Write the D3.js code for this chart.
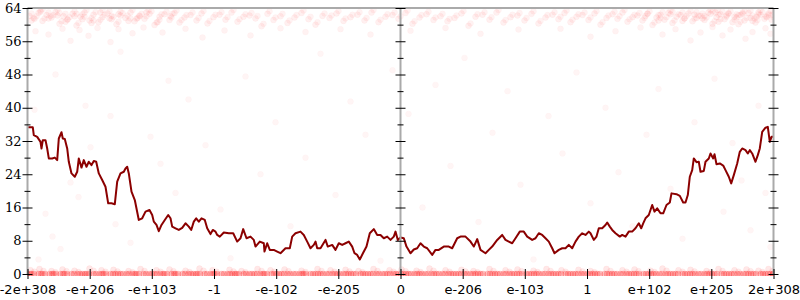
<!DOCTYPE html>
<html><head><meta charset="utf-8">
<script src="https://cdn.jsdelivr.net/npm/d3@7/dist/d3.min.js"></script>
<style>
body{margin:0;background:#fff}
svg{display:block}
</style></head>
<body><svg id="c" width="800" height="300"></svg>
<script>
// x values are positions along the ordered-float axis (tick spacing ~62.17 units)
const xTickValues = [-373, -310.8, -248.7, -186.5, -124.3, -62.2, 0, 62.2, 124.3, 186.5, 248.7, 310.8, 373];
const xTickLabels = ["-2e+308", "-e+206", "-e+103", "-1", "-e-102", "-e-205", "0", "e-206", "e-103", "1", "e+102", "e+205", "2e+308"];
const yMajorTicks = [0, 8, 16, 24, 32, 40, 48, 56, 64];
const yMinorTicks = [4, 12, 20, 28, 36, 44, 52, 60];

// running line
const lineX = [-372.3,-367.7,-366.7,-363.3,-360,-359,-357.7,-355,-353.3,-351.7,-348.3,-345.7,-343.3,-341.7,-339,-337.7,-335.7,-333.3,-331.7,-329,-325.7,-323.3,-321.7,-319,-316.7,-314,-311.7,-309,-306.7,-304.3,-301.7,-298.3,-295,-292.3,-289,-285.7,-283.3,-280,-276.7,-275,-273.3,-271.7,-269,-265.7,-261.7,-258.3,-255,-251,-248.3,-246.7,-244,-241.7,-239,-235.7,-232.3,-230,-228.3,-225,-221.7,-218.3,-215,-211.7,-209.3,-206.7,-204.3,-201.7,-199,-195.7,-193.3,-190,-187.7,-185,-183.3,-180.7,-176.7,-171.7,-167.3,-163.3,-160,-157.3,-154,-150,-146.7,-145,-140.7,-136.7,-136,-133.3,-130.7,-126.7,-123.3,-120,-115,-110.7,-108.3,-105,-100,-96.7,-93.3,-90,-86.7,-85,-83.3,-80,-75,-72.7,-68.3,-65,-61.7,-58.3,-55,-51.7,-48.3,-46,-43.3,-40.7,-37.3,-34,-30.7,-26.7,-23.3,-20,-16.7,-13.3,-10,-6.7,-5,-2.7,0,3.3,6,10,13.3,16.7,20,23.3,26.7,31.7,35,38.3,43.3,48.3,51.7,56.7,60,65,70,73.3,76.7,80,85,88.3,91.7,96.7,101.7,105,108.3,111.7,115,119.3,123.3,126.7,131.7,135,138.3,141.7,145,148.3,151.7,154,158.3,161.7,165,168.3,171.7,175,178.3,181.7,185,188.3,190,193.3,196,198.3,201.7,205,206.7,209.3,211.7,215,219.3,221.7,225,228.3,231.7,235,238.3,240.7,242.7,245,248.3,251.7,254,256.7,260,262.7,266,269.3,271,276,279.3,282.7,285,287.3,289.3,291.7,293.3,296,298.3,300,303.3,305,308.3,310,312.7,314,316,319.3,322.7,325,328.3,330.7,333.3,336.7,339.3,341.7,345,347.3,349.3,351.7,355,357.3,359.3,361.7,365,367.3,369.3,371,373];
const lineY = [35.3,35.3,33.4,33.0,31.8,30.2,32.2,32.2,30.2,27.8,27.8,28.0,27.4,32.6,34.1,32.6,32.5,30.2,27.0,24.2,23.4,24.6,27.8,25.6,27.4,25.8,27.0,26.2,27.2,27.0,24.2,22.6,21.0,17.0,17.0,16.8,22.2,24.2,24.6,25.4,25.8,24.2,19.8,17.8,13.0,13.4,15.0,15.4,14.2,12.6,11.8,10.3,11.8,13.0,14.2,13.4,11.4,11.0,10.6,11.1,12.2,11.4,10.6,12.6,13.4,12.6,13.4,13.0,11.0,9.6,10.6,10.2,9.4,9.0,10.0,9.8,9.8,7.8,8.6,10.8,8.6,9.0,8.2,6.6,7.8,7.4,5.4,7.4,5.8,5.8,5.4,5.0,6.2,6.2,9.0,9.8,10.2,9.4,7.8,6.2,7.0,7.8,6.2,6.2,8.2,6.6,7.0,5.8,7.4,7.0,7.4,7.8,6.6,5.0,4.6,3.5,5.1,6.6,9.8,10.8,9.4,9.4,8.6,9.0,8.2,9.0,10.2,8.2,8.8,8.6,6.6,5.0,5.9,6.2,7.4,6.6,6.2,4.6,5.8,5.8,6.6,6.6,6.2,8.6,9.0,9.0,7.8,6.6,8.4,5.8,5.0,5.8,6.6,8.2,9.4,8.2,7.8,7.4,8.6,10.2,10.2,9.0,8.2,8.6,9.8,9.4,8.6,7.8,6.2,5.0,5.8,6.2,6.2,7.0,6.2,7.8,9.0,9.8,9.4,10.2,9.8,8.2,9.0,11.0,11.0,11.8,12.4,11.4,10.6,9.8,9.0,9.4,9.0,10.2,10.2,11.0,12.2,11.0,12.2,13.4,14.2,16.6,15.0,15.8,14.6,14.6,16.6,17.2,19.4,19.2,18.8,17.2,17.2,19.0,23.4,25.0,27.8,26.9,27.0,24.6,24.8,27.0,27.8,29.0,27.8,28.8,26.4,26.6,26.1,25.0,23.4,21.8,23.8,26.6,29.4,30.2,29.8,29.0,29.8,29.0,27.0,28.6,30.2,34.2,35.2,35.4,31.8,33.0,33.0];

// scatter: dense band near the top
const topBand = [[-371,62.1],[-366,61.4],[-362,62.8],[-358,60.9],[-354,62.3],[-349,61.7],[-345,63.0],[-341,60.2],[-337,62.0],[-333,61.2],[-328,62.6],[-324,59.8],[-320,61.9],[-316,62.9],[-311,61.0],[-307,62.4],[-302,60.6],[-298,61.8],[-293,62.7],[-289,61.3],[-284,60.1],[-280,62.2],[-275,61.6],[-270,62.9],[-266,60.8],[-261,62.0],[-256,61.4],[-251,62.6],[-246,59.9],[-241,61.9],[-236,62.5],[-231,61.1],[-226,62.8],[-221,60.5],[-216,61.7],[-210,62.3],[-204,61.0],[-199,62.7],[-193,60.3],[-187,61.8],[-181,62.4],[-175,61.2],[-169,62.9],[-163,60.7],[-157,61.9],[-151,62.2],[-145,61.5],[-139,59.6],[-133,62.6],[-127,61.1],[-120,62.0],[-113,60.4],[-106,61.7],[-99,62.8],[-92,61.3],[-85,60.0],[-78,62.1],[-71,61.6],[-64,62.7],[-57,60.9],[-50,61.8],[-43,62.4],[-36,61.0],[-29,62.9],[-22,60.6],[-15,61.9],[-8,62.3],[-2,61.4],[5,62.8],[12,60.2],[19,61.7],[26,62.5],[33,61.1],[40,62.0],[47,60.8],[54,61.6],[61,62.7],[68,59.7],[75,61.9],[82,62.4],[89,61.2],[96,62.9],[103,60.5],[110,61.8],[117,62.2],[124,61.0],[131,62.6],[138,60.3],[145,61.7],[152,62.4],[158,61.3],[164,62.8],[170,60.6],[176,61.9],[182,62.3],[188,61.1],[194,62.7],[200,60.0],[206,61.6],[212,62.5],[217,61.4],[222,62.9],[227,60.7],[232,61.8],[237,62.2],[242,61.0],[247,62.6],[252,59.9],[256,61.7],[260,62.4],[264,61.2],[268,62.8],[272,60.4],[276,61.9],[280,62.3],[284,61.5],[288,62.7],[292,60.8],[296,61.6],[300,62.1],[304,61.1],[308,62.9],[312,60.2],[316,61.8],[320,62.5],[324,61.3],[328,62.6],[332,60.6],[336,61.7],[340,62.3],[344,61.0],[348,62.8],[352,60.9],[356,61.9],[360,62.4],[364,61.4],[368,62.7],[371,61.2],
[-369,61.0],[-360,63.1],[-352,61.5],[-343,62.2],[-335,60.7],[-326,62.0],[-318,61.3],[-309,60.4],[-300,62.9],[-291,61.5],[-282,62.5],[-272,60.9],[-263,61.6],[-254,62.9],[-243,60.6],[-230,62.0],[245,62.1],[258,61.0],[270,62.5],[282,60.9],[294,62.4],[302,61.5],[310,62.6],[318,60.7],[326,62.2],[334,61.9],[342,62.6],[350,61.6],[358,62.9],[366,61.8],[372,62.4],[355,60.5],[338,60.1],[315,62.9]];
const topSpread = [[-365,58.4],[-352,57.6],[-338,59.0],[-330,56.1],[-321,58.7],[-312,57.3],[-303,59.2],[-290,55.8],[-282,58.9],[-268,57.9],[-257,59.3],[-238,58.1],[-215,59.0],[-198,56.9],[-176,58.6],[-150,57.4],[-120,59.1],[-95,58.2],[-60,58.9],[-30,57.6],[10,58.5],[45,59.2],[80,57.8],[118,58.8],[160,59.0],[190,57.1],[215,58.4],[240,59.3],[262,57.6],[275,58.9],[290,56.2],[300,58.1],[312,59.4],[322,57.4],[330,58.8],[345,56.6],[352,58.2],[365,59.1],[370,57.8]];
const midSparse = [[-355,14.5],[-348,9.0],[-340,6.0],[-362,3.5],[-330,22.0],[-310,30.5],[-290,38.0],[-322,18.5],[-285,12.0],[-270,7.5],[-250,33.0],[-240,26.5],[-225,19.5],[-212,42.0],[-195,31.0],[-180,15.5],[-170,3.8],[-155,47.5],[-140,24.0],[-125,36.5],[-110,11.5],[-95,28.0],[-80,53.0],[-65,19.0],[-50,41.5],[-35,33.5],[-20,3.2],[-8,49.0],[8,38.5],[22,16.0],[35,45.5],[50,26.0],[64,52.0],[78,12.5],[92,34.0],[107,44.0],[120,21.5],[133,3.5],[148,38.0],[162,29.0],[176,48.5],[190,17.0],[205,40.0],[218,24.5],[232,11.5],[246,33.5],[258,44.5],[270,20.5],[282,8.5],[294,36.5],[305,27.0],[314,47.0],[323,15.0],[332,31.5],[341,22.5],[350,10.5],[358,40.5],[365,19.5],[370,6.5],[-366,39.5],[-345,48.0],[-315,40.5],[-280,53.5],[-232,46.5]];
// scatter: values at zero and just above
const zeroX = [-373,-369,-362,-358,-351,-347,-340,-336,-329,-323,-318,-314,-307,-301,-297,-290,-285,-280,-274,-268,-264,-257,-251,-246,-240,-236,-229,-225,-218,-212,-207,-203,-196,-190,-186,-179,-173,-168,-164,-157,-151,-146,-140,-136,-129,-124,-119,-113,-107,-101,-97,-90,-85,-80,-74,-68,-63,-57,-52,-47,-40,-35,-30,-24,-18,-13,-7,-2,3,8,14,19,25,31,36,42,48,53,58,64,70,75,80,87,92,97,103,109,114,119,126,131,136,142,148,153,158,165,170,175,181,187,192,197,204,209,214,220,226,231,236,243,248,253,259,265,270,275,282,287,292,298,304,309,314,321,326,331,337,343,348,353,360,365,370,373];
const nearZero = [[-370,0.9],[-361,1.2],[-349,0.7],[-338,1.1],[-326,0.8],[-311,1.3],[-299,0.9],[-287,1.0],[-272,0.7],[-260,1.2],[-244,0.9],[-231,1.1],[-215,0.8],[-201,1.3],[-188,0.9],[-171,1.0],[-159,0.7],[-143,1.2],[-130,0.9],[-116,1.1],[-99,0.8],[-83,1.2],[-70,0.9],[-55,1.0],[-42,0.7],[-27,1.2],[-11,0.9],[1,1.1],[16,0.8],[29,1.3],[45,0.9],[61,1.0],[73,0.7],[89,1.2],[105,0.9],[117,1.1],[133,0.8],[146,1.2],[161,0.9],[178,1.0],[190,0.7],[206,1.2],[222,0.9],[234,1.1],[250,0.8],[262,1.3],[278,0.9],[290,1.0],[306,0.7],[318,1.2],[334,0.9],[346,1.1],[358,0.8],[368,1.2]];

const W = 800, H = 300;
const svg = d3.select("#c");
const x = d3.scaleLinear().domain([-373, 373]).range([27.5, 773.5]);
const y = d3.scaleLinear().domain([0, 64]).range([274, 8]);

svg.append("defs").append("clipPath").attr("id", "clip")
  .append("rect").attr("x", 27.5).attr("y", 8).attr("width", 746).attr("height", 268);

const gp = svg.append("g").attr("clip-path", "url(#clip)");
function dots(data, op, r) {
  gp.append("g").selectAll("circle").data(data).join("circle")
    .attr("cx", d => x(d[0])).attr("cy", d => y(d[1])).attr("r", r || 3)
    .attr("fill", "#ff0000").attr("fill-opacity", op)
    .attr("stroke", "#ff0000").attr("stroke-opacity", op * 0.8).attr("stroke-width", 0.6);
}
dots(topBand, 0.06);
dots(topBand.map(d => [d[0] + 2, d[1] + 0.6]), 0.05);
dots(topSpread, 0.05);
dots(midSparse, 0.04);
dots(nearZero, 0.09);
dots(nearZero.map(d => [d[0] + 4, d[1] * 0.6]), 0.08);
dots(zeroX.map(v => [v, 0]), 0.22);
dots(zeroX.map(v => [v + 2.5, 0]), 0.22);

// frame lines
const grey = "#aaaaaa";
svg.append("line").attr("x1", x(-373)).attr("x2", x(373)).attr("y1", y(64)).attr("y2", y(64))
  .attr("stroke", grey).attr("stroke-width", 2);

// line series
const pts = lineX.map((v, i) => [v, lineY[i]]);
svg.append("path").datum(pts)
  .attr("fill", "none").attr("stroke", "#8b0000").attr("stroke-width", 2).attr("stroke-linejoin", "round")
  .attr("d", d3.line().x(d => x(d[0])).y(d => y(d[1])));

// vertical axes
function vAxis(xv, labels) {
  const X = x(xv);
  svg.append("line").attr("x1", X).attr("x2", X).attr("y1", y(64)).attr("y2", y(0))
    .attr("stroke", grey).attr("stroke-width", 2);
  const gMaj = svg.append("g").attr("transform", `translate(${X + 5},0)`)
    .call(d3.axisLeft(y).tickValues(yMajorTicks).tickSize(10).tickPadding(1)
      .tickFormat(labels ? d3.format("d") : () => ""));
  gMaj.select(".domain").remove();
  gMaj.selectAll("line").attr("stroke", "#000");
  gMaj.selectAll("text").attr("font-family", "DejaVu Serif").attr("font-size", 13).attr("fill", "#000");
  const gMin = svg.append("g").attr("transform", `translate(${X + 3},0)`)
    .call(d3.axisLeft(y).tickValues(yMinorTicks).tickSize(6).tickFormat(() => ""));
  gMin.select(".domain").remove();
  gMin.selectAll("line").attr("stroke", "#000");
}
vAxis(-373, true);
vAxis(0, false);
vAxis(373, false);

// bottom axis
const gx = svg.append("g").attr("transform", `translate(0,${y(0) - 5})`)
  .call(d3.axisBottom(x).tickValues(xTickValues).tickSize(10).tickPadding(6)
    .tickFormat((d, i) => xTickLabels[i]));
gx.select(".domain").remove();
gx.selectAll("line").attr("stroke", "#000");
gx.selectAll("text").attr("font-family", "DejaVu Sans").attr("font-size", 13).attr("fill", "#000");
</script></body></html>
